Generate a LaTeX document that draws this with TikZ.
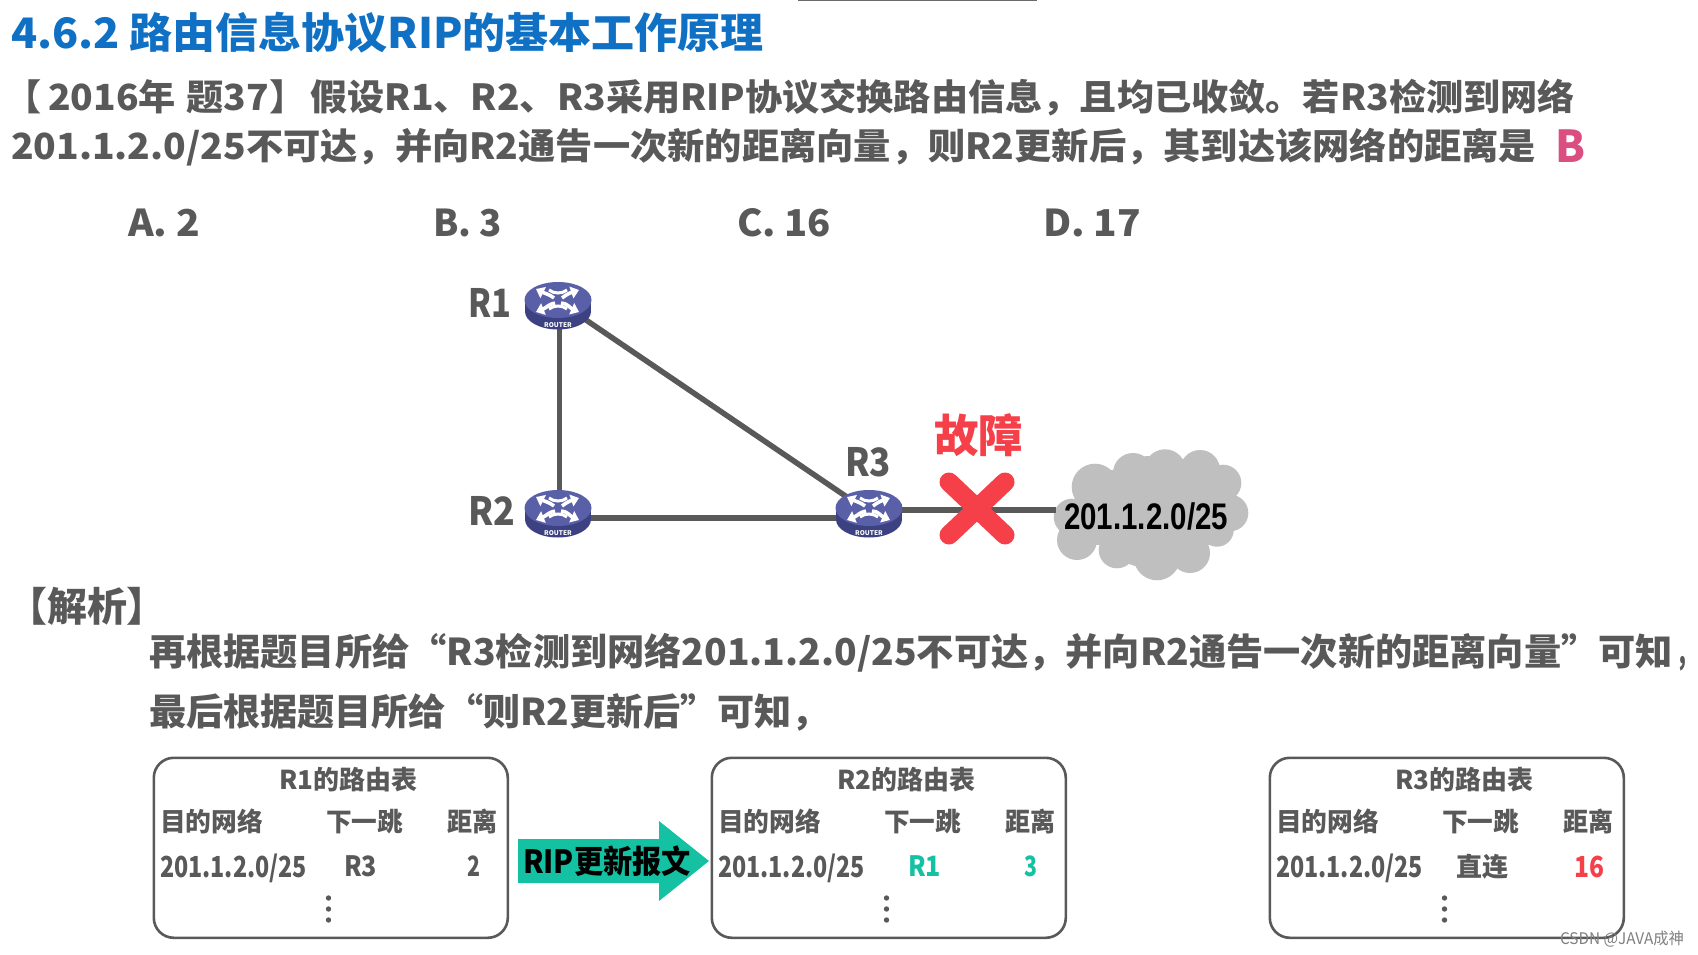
\documentclass[tikz,border=0pt]{standalone}
\usepackage{graphicx}
\usepackage{fontspec}
\setmainfont{Noto Sans CJK SC}
\newfontfamily\arialbold{Liberation Sans}
\usetikzlibrary{arrows.meta,shapes.geometric}
\definecolor{ink}{HTML}{595959}
\definecolor{titleblue}{HTML}{0F70C4}
\definecolor{faultred}{HTML}{F5404A}
\definecolor{teal1}{HTML}{14C2A3}
\definecolor{pink1}{HTML}{DB4F80}
\definecolor{cloudgray}{HTML}{BFBFBF}
\definecolor{routertop}{HTML}{5A60A8}
\definecolor{routerside}{HTML}{3C4182}
\tikzset{
  txt/.style={inner sep=0pt,outer sep=0pt,anchor=base west},
  linkline/.style={draw=ink,line width=5.5pt},
  tablebox/.style={draw=ink,line width=2.6pt,rounded corners=20pt},
  routeranchor/.style={ellipse,minimum width=67pt,minimum height=47pt,inner sep=0pt},
  routerarrow/.style={draw=white,line width=3.6pt,-{Triangle[width=12pt,length=8pt]}},
  routertext/.style={inner sep=0pt,text=white,font=\fontsize{6.5}{6.5}\selectfont\bfseries}
}
% name, left x, centre y, width, font size, colour, text
\newcommand\T[7]{%
  \pgfmathsetmacro\basey{#3+0.38*#5}%
  \node[txt,text=#6] (#1) at (#2,\basey) {\fontsize{#5}{#5}\selectfont\bfseries\resizebox{#4pt}{\height}{#7}};}
\newcommand\routerart[2]{%
  \begin{scope}[shift={(#1,#2)}]
    \fill[routerside] (0,5.5) ellipse[x radius=33,y radius=18];
    \fill[routerside] (-33,-6) rectangle (33,5.5);
    \fill[routertop] (0,-6) ellipse[x radius=33.5,y radius=18];
    \draw[routerarrow] (-4,-8) .. controls (-9,-12) and (-12,-12) .. (-22,-17);
    \draw[routerarrow] (4,-8) .. controls (9,-12) and (12,-13) .. (21,-16);
    \draw[routerarrow] (-3,-3) .. controls (-9,-2) and (-12,2) .. (-22,6);
    \draw[routerarrow] (3,-3) .. controls (9,-3) and (12,2) .. (21,6);
    \draw[draw=white,line width=3pt] (-9,-16) .. controls (-4,-12) and (4,-12) .. (9,-16);
    \draw[draw=white,line width=3pt] (-9,3) .. controls (-4,-1) and (4,-1) .. (9,3);
  \end{scope}}
\newcommand\tablerow[4]{% prefix, dx, title, row cells
  \node[tablebox,minimum width=354pt,minimum height=180pt,anchor=north west] (#1box) at (152.5+#2,756.5) {};
  \T{#1title}{279+#2}{780}{138}{26}{ink}{#3}
  \T{#1hdra}{160+#2}{822}{103}{26}{ink}{目的网络}
  \T{#1hdrb}{326+#2}{822}{77}{26}{ink}{下一跳}
  \T{#1hdrc}{447+#2}{822}{50}{26}{ink}{距离}
  \T{#1net}{160+#2}{866}{147}{29}{ink}{201.1.2.0/25}
  #4
  \foreach \dy in {898,909,920} \fill[ink] (328.5+#2,\dy) circle[radius=2.7];
}
\begin{document}
\begin{tikzpicture}[x=1pt,y=-1pt]
\useasboundingbox (0,0) rectangle (1698,955);
\fill[white] (0,0) rectangle (1698,955);
\fill[ink!90] (798,0) rectangle (1037,1.5);
% text block
\T{title}{11}{33}{753}{42}{titleblue}{4.6.2 路由信息协议RIP的基本工作原理}
\T{qa}{5}{97}{1570}{36}{ink}{【\kern6pt 2016年 \kern2pt 题37】\kern4pt 假设R1、R2、R3采用RIP协议交换路由信息，且均已收敛。若R3检测到网络}
\T{qb}{11}{146}{1525}{36}{ink}{201.1.2.0/25不可达，并向R2通告一次新的距离向量，则R2更新后，其到达该网络的距离是}
\T{ans}{1555}{146}{30}{44}{pink1}{B}
\T{opta}{128}{222}{72}{37}{ink}{A. 2}
\T{optb}{433}{222}{69}{37}{ink}{B. 3}
\T{optc}{737}{222}{94}{37}{ink}{C. 16}
\T{optd}{1043}{222}{98}{37}{ink}{D. 17}
% network
\node[routeranchor] (R1) at (558,306) {};
\node[routeranchor] (R2) at (558,514) {};
\node[routeranchor] (R3) at (869,514) {};
\fill[cloudgray]
  (1095,487) circle[radius=23.3] (1133,473) circle[radius=20]
  (1165,470) circle[radius=20.7] (1200,470) circle[radius=20]
  (1223,483) circle[radius=18.3] (1230,513) circle[radius=18.3]
  (1217,530) circle[radius=16.7] (1190,553) circle[radius=20]
  (1157,557) circle[radius=23.3] (1117,550) circle[radius=18.3]
  (1077,540) circle[radius=20] (1072,517) circle[radius=18.3]
  (1150,512) circle[radius=56];
\fill[cloudgray] (1075,490) rectangle (1225,545);
\fill[cloudgray] (1095,470) rectangle (1215,490);
\coordinate (cloudw) at (1056,510);
\draw[linkline] ([xshift=1.5pt]R1.center) -- ([xshift=1.5pt]R2.center);
\draw[linkline] ([yshift=5pt]R1.center) -- ([yshift=2pt]R3.center);
\draw[linkline] ([yshift=-4pt]R2.center) -- ([yshift=-4pt]R3.center);
\draw[linkline,line width=6.5pt] ([yshift=4pt]R3.center) -- (cloudw);
\routerart{558}{306}
\routerart{558}{514}
\routerart{869}{514}
\node[routertext] (rta) at (558,325.5) {ROUTER};
\node[routertext] (rtb) at (558,533.5) {ROUTER};
\node[routertext] (rtc) at (869,533.5) {ROUTER};
\T{labA}{468}{303}{43}{39}{ink}{R1}
\T{labB}{468}{511}{47}{39}{ink}{R2}
\T{labC}{845}{462}{46}{39}{ink}{R3}
\T{fault}{934}{435}{89}{45}{faultred}{故障}
\draw[faultred,line width=19pt,line cap=round] (949,482) -- (1005,535);
\draw[faultred,line width=19pt,line cap=round] (1005,482) -- (949,535);
\node[txt,text=black] (netlab) at (1064,529) {\fontsize{37}{37}\selectfont\arialbold\bfseries\resizebox{164pt}{\height}{201.1.2.0/25}};
% analysis
\T{ana}{7}{606}{160}{40}{ink}{【解析】}
\T{anb}{149}{651}{1524}{37}{ink}{再根据题目所给“R3检测到网络201.1.2.0/25不可达，并向R2通告一次新的距离向量”可知}
\T{anbcomma}{1676}{651}{21}{37}{ink}{，}
\T{anc}{149}{711}{680}{37}{ink}{最后根据题目所给“则R2更新后”可知，}
% tables
\tablerow{ta}{0}{R1的路由表}{%
  \T{tahop}{344}{866}{33}{28}{ink}{R3}
  \T{tadist}{467}{866}{13}{28}{ink}{2}}
\tablerow{tb}{558}{R2的路由表}{%
  \T{tbhop}{908}{866}{33}{28}{teal1}{R1}
  \T{tbdist}{1024}{866}{13}{28}{teal1}{3}}
\tablerow{tc}{1116}{R3的路由表}{%
  \T{tchop}{1456}{867}{52}{26}{ink}{直连}
  \T{tcdist}{1574}{866}{30}{29}{faultred}{16}}
% arrow
\fill[teal1] (518,839) -- (659,839) -- (659,821) -- (709,861) -- (659,901) -- (659,883) -- (518,883) -- cycle;
\T{ripmsg}{523}{861}{168}{32}{black}{RIP更新报文}
% watermark
\node[txt,text=black!50] (wm) at (1560,944) {\fontsize{16}{16}\selectfont\resizebox{124pt}{\height}{CSDN @JAVA成神}};
\end{tikzpicture}
\end{document}
